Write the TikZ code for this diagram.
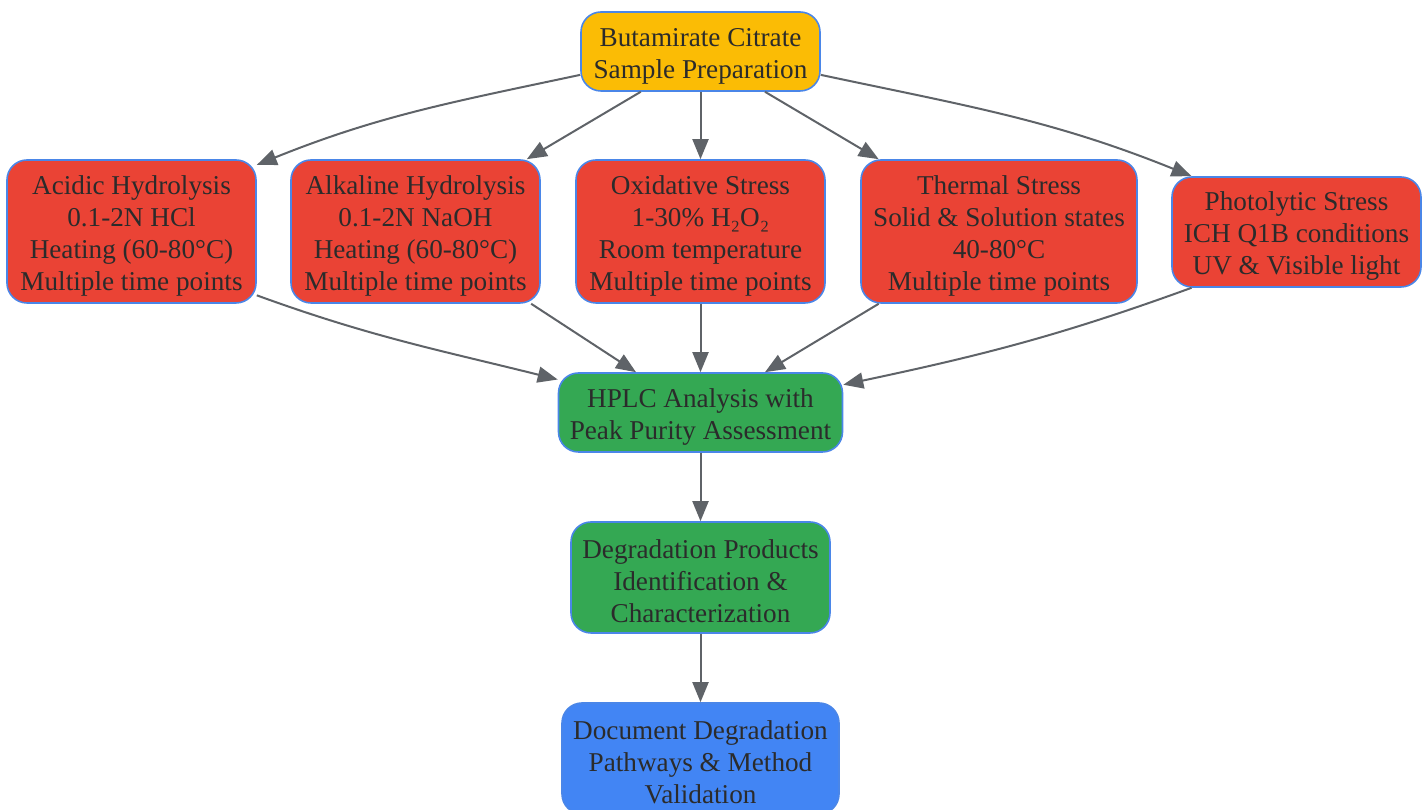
\documentclass[tikz,border=0pt]{standalone}
\usepackage{fontspec}
\setmainfont{Liberation Serif}
\usetikzlibrary{arrows.meta}
\definecolor{cyellow}{HTML}{FBBC05}
\definecolor{cred}{HTML}{EA4335}
\definecolor{cgreen}{HTML}{34A853}
\definecolor{cblue}{HTML}{4285F4}
\definecolor{cborder}{HTML}{4A86E8}
\definecolor{ctext}{HTML}{2B2B2B}
\definecolor{cedge}{HTML}{5F6368}
\newcommand\tstrut{\rule{0pt}{27pt}}
\begin{document}
\begin{tikzpicture}[x=1pt,y=1pt,
  box/.style={draw=cborder, line width=1.6pt, rounded corners=20pt, align=center,
    inner sep=0pt, text=ctext, font=\fontsize{27.2}{32}\selectfont},
  arr/.style={draw=cedge, line width=2pt, -{Triangle[length=20pt,width=16pt]}}]
\useasboundingbox (0,0) rectangle (1428,810);
\node[box, fill=cyellow, minimum width=239pt, minimum height=79pt] (top) at (700.5,758.5)
  {\tstrut Butamirate Citrate\\Sample Preparation};
\node[box, fill=cred, minimum width=249pt, minimum height=143pt] (acid) at (131.5,578.5)
  {\tstrut Acidic Hydrolysis\\0.1-2N HCl\\Heating (60-80°C)\\Multiple time points};
\node[box, fill=cred, minimum width=249pt, minimum height=143pt] (alk) at (415.5,578.5)
  {\tstrut Alkaline Hydrolysis\\0.1-2N NaOH\\Heating (60-80°C)\\Multiple time points};
\node[box, fill=cred, minimum width=249pt, minimum height=143pt] (oxi) at (700.5,578.5)
  {\tstrut Oxidative Stress\\1-30\% H₂O₂\\Room temperature\\Multiple time points};
\node[box, fill=cred, minimum width=276pt, minimum height=143pt] (therm) at (999,578.5)
  {\tstrut Thermal Stress\\Solid \& Solution states\\40-80°C\\Multiple time points};
\node[box, fill=cred, minimum width=249pt, minimum height=110pt] (photo) at (1296.5,578)
  {\tstrut Photolytic Stress\\ICH Q1B conditions\\UV \& Visible light};
\node[box, fill=cgreen, minimum width=284pt, minimum height=79pt] (hplc) at (700.5,397.5)
  {\tstrut HPLC Analysis with\\Peak Purity Assessment};
\node[box, fill=cgreen, minimum width=259pt, minimum height=111pt] (deg) at (700.5,232.5)
  {\tstrut Degradation Products\\Identification \&\\Characterization};
\node[box, fill=cblue, minimum width=277pt, minimum height=111pt] (doc) at (700.5,51.5)
  {\tstrut Document Degradation\\Pathways \& Method\\Validation};

\draw[arr] (top.191.6) to[out=192, in=22] (acid.28);
\draw[arr] (top.214) -- (alk.33);
\draw[arr] (top.south) -- (oxi.north);
\draw[arr] (top.328) -- (therm.149);
\draw[arr] (top.349.3) to[out=-12, in=158] (photo.152);

\draw[arr] (acid.333) to[out=-20, in=166] (hplc.167);
\draw[arr] (alk.328) -- (hplc.148);
\draw[arr] (oxi.south) -- (hplc.north);
\draw[arr] (therm.211) -- (hplc.32);
\draw[arr] (photo.208) to[out=200, in=12] (hplc.11);

\draw[arr] (hplc.south) -- (deg.north);
\draw[arr] (deg.south) -- (doc.north);
\end{tikzpicture}
\end{document}
